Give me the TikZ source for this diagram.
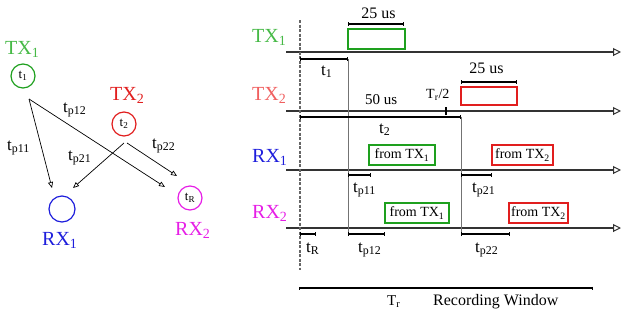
\documentclass[tikz,border=0pt]{standalone}
\usepackage{fontspec}
\setmainfont{Liberation Serif}
\usetikzlibrary{arrows.meta}
\definecolor{cgreen}{RGB}{30,160,30}
\definecolor{cgreenl}{RGB}{70,185,70}
\definecolor{cred}{RGB}{225,30,30}
\definecolor{credl}{RGB}{240,95,95}
\definecolor{cblue}{RGB}{30,30,220}
\definecolor{cmag}{RGB}{230,30,230}
\newcommand{\fsz}[1]{\fontsize{#1}{#1}\selectfont}
\begin{document}
\begin{tikzpicture}[x=1pt,y=-1pt,
  lbl/.style={inner sep=0pt, anchor=base west},
  big/.style={lbl, font=\rmfamily\fsz{20}},
  med/.style={lbl, font=\rmfamily\fsz{17}},
  sml/.style={lbl, font=\rmfamily\fsz{15}},
  circ/.style={circle, draw, line width=1.2pt, minimum size=24pt, inner sep=0pt, font=\rmfamily\fsz{13}},
  conn/.style={line width=0.7pt, -{Triangle[open,length=6pt,width=5pt,line width=0.7pt]}},
  axis/.style={line width=1.5pt, draw=black!80, -{Triangle[open,length=8pt,width=8pt,line width=1pt]}},
  vline/.style={line width=0.6pt, draw=black!55},
  brk/.style={line width=1.1pt, {Bar[width=4pt]}-{Bar[width=4pt]}},
  box/.style={draw, line width=1.4pt, inner sep=0pt, font=\rmfamily\fsz{14}},
]
\useasboundingbox (0,0) rectangle (622,322);

% ---------- left diagram ----------
\node[big, text=cgreenl] (ltx1) at (5,54) {TX\textsubscript{1}};
\node[circ, draw=cgreen] (ct1) at (23,76) {t\textsubscript{1}};
\node[big, text=cred] (ltx2) at (110,100) {TX\textsubscript{2}};
\node[circ, draw=cred] (ct2) at (124,124) {t\textsubscript{2}};
\node[circ, draw=cblue, minimum size=26pt] (crx1) at (62,209) {};
\node[big, text=cblue] (lrx1) at (42,245) {RX\textsubscript{1}};
\node[circ, draw=cmag] (crx2) at (190,198) {t\textsubscript{R}};
\node[big, text=cmag] (lrx2) at (175,235) {RX\textsubscript{2}};

\coordinate (s1) at (29,99);
\coordinate (s2) at (124,143);
\coordinate (s2b) at (127,143);
\coordinate (e11) at (52,188);
\coordinate (e12) at (165,187);
\coordinate (e21) at (73,188);
\coordinate (e22) at (177,176);
\draw[conn] (s1) -- (e11);
\draw[conn] (s1) -- (e12);
\draw[conn] (s2) -- (e21);
\draw[conn] (s2b) -- (e22);

\node[med] (ltp12) at (63,112) {t\textsubscript{p12}};
\node[med] (ltp11) at (7,150) {t\textsubscript{p11}};
\node[med] (ltp21) at (68,160) {t\textsubscript{p21}};
\node[med] (ltp22) at (152,148) {t\textsubscript{p22}};

% ---------- timing diagram ----------
\node[big, text=cgreenl] (rtx1) at (252,42) {TX\textsubscript{1}};
\node[big, text=credl] (rtx2) at (252,100) {TX\textsubscript{2}};
\node[big, text=cblue] (rrx1) at (252,162) {RX\textsubscript{1}};
\node[big, text=cmag] (rrx2) at (252,218) {RX\textsubscript{2}};

\coordinate (a1s) at (286,52);  \coordinate (a1e) at (621,52);
\coordinate (a2s) at (286,111); \coordinate (a2e) at (621,111);
\coordinate (a3s) at (286,170); \coordinate (a3e) at (621,170);
\coordinate (a4s) at (286,228); \coordinate (a4e) at (621,228);
\draw[axis] (a1s) -- (a1e);
\draw[axis] (a2s) -- (a2e);
\draw[axis] (a3s) -- (a3e);
\draw[axis] (a4s) -- (a4e);

% dashed origin and thin verticals
\coordinate (d0) at (300,20); \coordinate (d1) at (300,270);
\draw[line width=1.1pt, draw=black!60, dash pattern=on 3pt off 1.5pt] (d0) -- (d1);
\coordinate (v1a) at (348,59); \coordinate (v1b) at (348,236);
\coordinate (v2a) at (461,117); \coordinate (v2b) at (461,235);
\draw[vline] (v1a) -- (v1b);
\draw[vline] (v2a) -- (v2b);

% boxes
\node[box, draw=cgreen, minimum width=57pt, minimum height=20pt] (btx1) at (376.5,39) {};
\node[box, draw=cred, minimum width=56pt, minimum height=18pt] (btx2) at (489,96) {};
\node[box, draw=cgreen, minimum width=66pt, minimum height=20pt] (b11) at (402,155) {from TX\textsubscript{1}};
\node[box, draw=cred, minimum width=61pt, minimum height=20pt] (b12) at (522.5,155) {from TX\textsubscript{2}};
\node[box, draw=cgreen, minimum width=64pt, minimum height=20pt] (b21) at (417,213) {from TX\textsubscript{1}};
\node[box, draw=cred, minimum width=59pt, minimum height=20pt] (b22) at (538.5,213) {from TX\textsubscript{2}};

% brackets
\coordinate (k1a) at (348,24); \coordinate (k1b) at (404,24);
\draw[brk] (k1a) -- (k1b);
\node[sml, font=\rmfamily\fsz{16}, anchor=base] (l25a) at (378.5,18) {25 us};
\coordinate (k2a) at (300,59); \coordinate (k2b) at (348,59);
\draw[brk] (k2a) -- (k2b);
\node[med] (lt1) at (321,75) {t\textsubscript{1}};
\node[sml] (l50) at (365,104) {50 us};
\coordinate (k3a) at (300,117); \coordinate (k3b) at (461,117);
\draw[brk, line width=1.3pt] (k3a) -- (k3b);
\node[med] (lt2) at (379,133) {t\textsubscript{2}};
\coordinate (tk1) at (446,107); \coordinate (tk2) at (446,115);
\draw[line width=1.1pt] (tk1) -- (tk2);
\node[sml, font=\rmfamily\fsz{14}] (ltr2) at (426,98) {T\textsubscript{r}/2};
\coordinate (k4a) at (461,82); \coordinate (k4b) at (517,82);
\draw[brk] (k4a) -- (k4b);
\node[sml, font=\rmfamily\fsz{16}, anchor=base] (l25b) at (486.5,73) {25 us};

\coordinate (k5a) at (348,175); \coordinate (k5b) at (371,175);
\draw[brk] (k5a) -- (k5b);
\node[med] (ltp11r) at (353,192) {t\textsubscript{p11}};
\coordinate (k6a) at (461,175); \coordinate (k6b) at (492,175);
\draw[brk] (k6a) -- (k6b);
\node[med] (ltp21r) at (472,192) {t\textsubscript{p21}};
\coordinate (k7a) at (300,234); \coordinate (k7b) at (316,234);
\draw[brk] (k7a) -- (k7b);
\node[med] (ltR) at (306,252) {t\textsubscript{R}};
\coordinate (k8a) at (348,234); \coordinate (k8b) at (385,234);
\draw[brk] (k8a) -- (k8b);
\node[med] (ltp12r) at (358,252) {t\textsubscript{p12}};
\coordinate (k9a) at (461,234); \coordinate (k9b) at (510,234);
\draw[brk] (k9a) -- (k9b);
\node[med] (ltp22r) at (475,252) {t\textsubscript{p22}};

% recording window
\coordinate (w1) at (299,288); \coordinate (w2) at (593,288);
\draw[line width=1.1pt, {Bar[width=3pt]}-{Bar[width=3pt]}] (w1) -- (w2);
\node[sml] (lTr) at (387,305) {T\textsubscript{r}};
\node[sml, font=\rmfamily\fsz{16}] (lrw) at (433,305) {Recording Window};
\end{tikzpicture}
\end{document}
